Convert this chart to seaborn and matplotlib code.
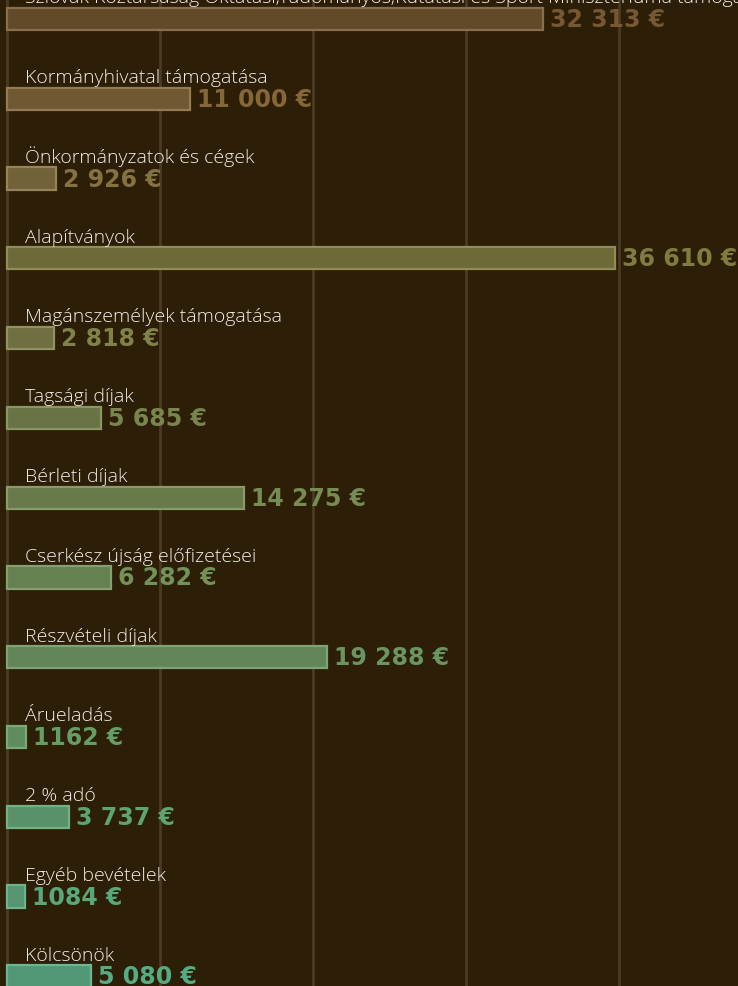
import matplotlib; matplotlib.use('Agg')
import pandas as pd
import numpy as np
import seaborn as sns
import matplotlib.pyplot as plt
import matplotlib.colors as mcolors

# bevételek (income sources)
categories = [
    "Szlovák Köztársaság Oktatási,Tudományos,Kutatási és Sport Minisztériuma támogatása",
    "Kormányhivatal támogatása",
    "Önkormányzatok és cégek",
    "Alapítványok",
    "Magánszemélyek támogatása",
    "Tagsági díjak",
    "Bérleti díjak",
    "Cserkész újság előfizetései",
    "Részvételi díjak",
    "Árueladás",
    "2 % adó",
    "Egyéb bevételek",
    "Kölcsönök",
]
amounts = [32313, 11000, 2926, 36610, 2818, 5685, 14275, 6282, 19288, 1162, 3737, 1084, 5080]
amount_labels = ["32 313 €", "11 000 €", "2 926 €", "36 610 €", "2 818 €", "5 685 €",
                 "14 275 €", "6 282 €", "19 288 €", "1162 €", "3 737 €", "1084 €", "5 080 €"]
bar_colors = ["#6b4a20", "#7a5a28", "#7a6630", "#767030", "#76763a", "#6c7c3e",
              "#6a8244", "#66884a", "#5e8c52", "#589458", "#4f9c66", "#4aa06e", "#46a478"]

bg = "#2d1e07"
grid_col = "#4b3b24"

df = pd.DataFrame({"category": categories, "amount": amounts})

sns.set_theme(style="white")
plt.rcParams['font.family'] = ['Open Sans', 'DejaVu Sans']

fig = plt.figure(figsize=(7.38, 9.87), dpi=100, facecolor=bg)
ax = fig.add_axes([0, 0, 1, 1])
ax.set_facecolor(bg)

# vertical grid lines
for gx in [0, 9217, 18434, 27651, 36867]:
    ax.axvline(gx, color=grid_col, lw=2, zorder=0)

sns.barplot(data=df, x="amount", y="category", hue="category", palette=bar_colors,
            legend=False, width=0.28, orient="h", ax=ax, zorder=2)

def lighten(c, f=0.25):
    r, g, b = mcolors.to_rgb(c)
    return (r + (1 - r) * f, g + (1 - g) * f, b + (1 - b) * f)

for patch, c in zip(ax.patches, bar_colors):
    patch.set_edgecolor(lighten(c, 0.2))
    patch.set_linewidth(1.6)

for i, (val, lab, c) in enumerate(zip(amounts, amount_labels, bar_colors)):
    ax.annotate(lab, xy=(val, i), xytext=(5, 0), textcoords="offset points",
                ha="left", va="center", fontsize=17, fontweight="bold",
                color=lighten(c, 0.08), family=["DejaVu Sans"], zorder=3)
    ax.annotate(categories[i], xy=(0, i), xytext=(13, 12), textcoords="offset points",
                ha="left", va="baseline", fontsize=14, fontweight="light",
                color="#f2eee8", zorder=3, annotation_clip=False)

ax.set_xlim(-422, 44036)
ax.set_ylim(12.12, -0.25)
ax.set_xlabel("")
ax.set_ylabel("")
ax.set_xticks([])
ax.set_yticks([])
for s in ax.spines.values():
    s.set_visible(False)

fig.savefig("out.png", dpi=100, facecolor=bg)
